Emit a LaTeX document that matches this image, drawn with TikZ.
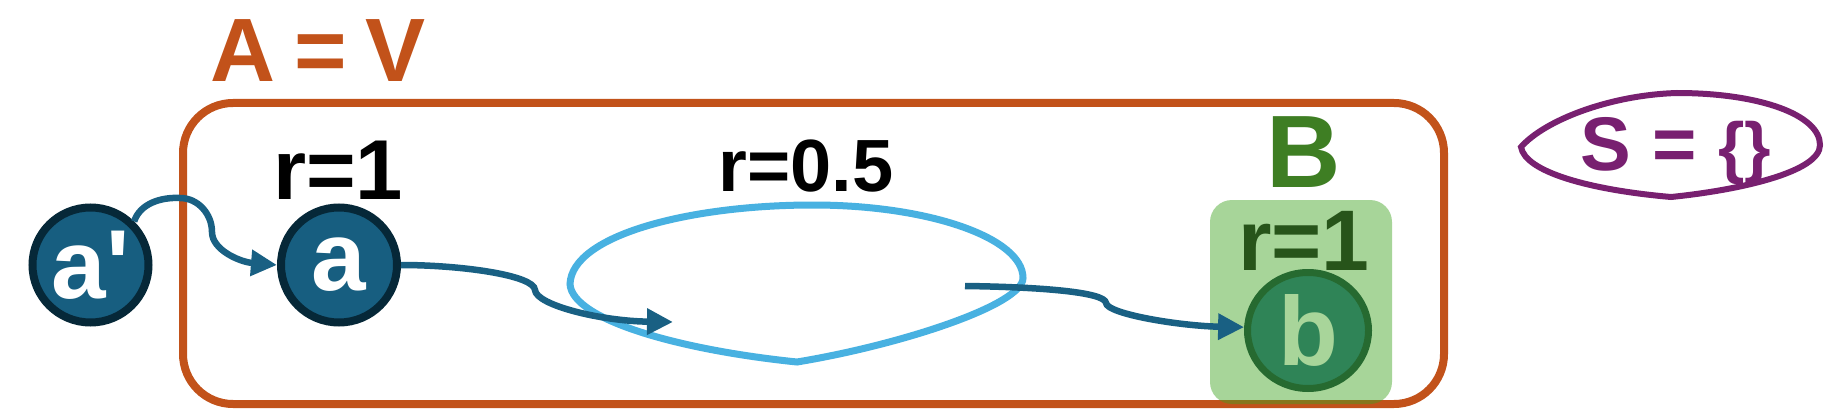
\documentclass[tikz,border=0pt]{standalone}
\usepackage{fontspec}
\setmainfont{Liberation Sans}
\usetikzlibrary{arrows.meta,shapes.geometric}
\definecolor{orng}{HTML}{C2521A}
\definecolor{ndfill}{HTML}{175E80}
\definecolor{ndborder}{HTML}{062838}
\definecolor{arrowc}{HTML}{196083}
\definecolor{lblue}{HTML}{48B1E1}
\definecolor{gB}{HTML}{3E7E23}
\definecolor{gdark}{HTML}{27541A}
\definecolor{gbox}{RGB}{62,162,31}
\definecolor{bfill}{HTML}{2F8457}
\definecolor{bborder}{HTML}{266A30}
\definecolor{btext}{HTML}{A8D59A}
\definecolor{purp}{HTML}{782070}
\newcommand\myfs[1]{\fontsize{#1}{#1}\selectfont\bfseries}
\font\apfnt="Liberation Sans/B" at 98pt
\tikzset{
  nd/.style={ellipse, draw=ndborder, fill=ndfill, line width=8pt, inner sep=0pt,
    minimum width=116pt, minimum height=115pt, text=white, font=\myfs{98}},
  conn/.style={draw=arrowc, line width=6.5pt, -{Triangle[length=26pt,width=25pt]}},
  lbl/.style={anchor=base, inner sep=0pt},
}
\begin{document}
\begin{tikzpicture}[x=1pt,y=-1pt]
\useasboundingbox (0,0) rectangle (1828,409);
\fill[white] (0,0) rectangle (1828,409);
% outer set A
\draw[orng, line width=8pt, rounded corners=50pt] (183,103) rectangle (1444,404);
% light blue lens
\draw[lblue, line width=7pt] (797,362) .. controls (680,350) and (572,320) .. (570,284)
  .. controls (572,235) and (690,205) .. (813,205)
  .. controls (929,205) and (1023,238) .. (1023,278)
  .. controls (1023,305) and (900,345) .. (797,362) -- cycle;
% green box B
\fill[gbox, fill opacity=0.45, rounded corners=22pt] (1210,200) rectangle (1392,404);
% purple lens
\draw[purp, line width=6pt] (1521,147) .. controls (1545,120) and (1610,95) .. (1677,93)
  .. controls (1760,93) and (1820,115) .. (1820,145)
  .. controls (1820,172) and (1740,190) .. (1671,197)
  .. controls (1590,190) and (1525,172) .. (1521,147) -- cycle;
% nodes
\node[nd] (ap) at (90.5,265) {\apfnt a'};
\node[nd] (a) at (339,265) {a};
\node[nd, draw=bborder, fill=bfill, text=btext, line width=7pt,
  minimum width=121pt, minimum height=116pt] (b) at (1308,330.5) {b};
\coordinate (m1) at (673,322);
\coordinate (m2) at (965,286);
% connectors
\draw[conn] (ap.45) .. controls (140,204) and (160,197) .. (180,198)
  .. controls (198,198) and (212,214) .. (212,232)
  .. controls (212,250) and (240,262) .. (a.west);
\draw[conn] (a.east) .. controls (460,265) and (534,275) .. (535,290)
  .. controls (536,305) and (600,321) .. (m1);
\draw[conn] (m2) .. controls (1040,287) and (1105,292) .. (1106,303)
  .. controls (1107,314) and (1180,326) .. (b.177);
% labels
\node[lbl, text=orng, font=\myfs{90}] (tA) at (318,82) {A\hspace{19pt}=\hspace{19pt}V};
\node[lbl, font=\myfs{85}] (r1) at (338,199) {r=1};
\node[lbl, font=\myfs{74}] (r05) at (806,191) {r=0.5};
\node[lbl, text=gB, font=\myfs{103}] (tB) at (1303.5,187) {B};
\node[lbl, text=gdark, font=\myfs{86}] (r1b) at (1304,270) {r=1};
\node[lbl, text=purp, font=\myfs{76}] (tS) at (1676,170) {S = {\fontsize{68}{68}\selectfont\{\}}};
\end{tikzpicture}
\end{document}
